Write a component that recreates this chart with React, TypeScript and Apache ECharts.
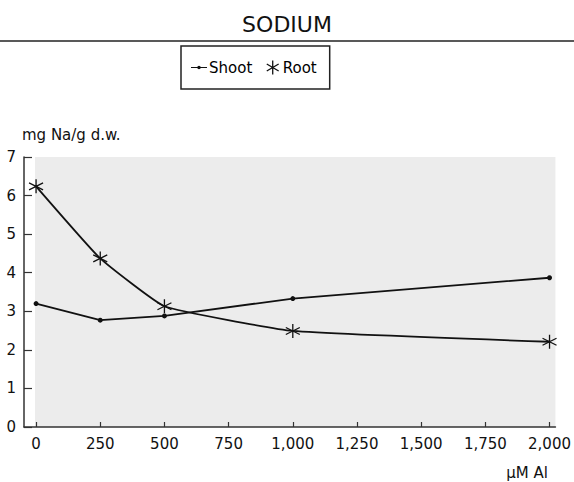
import React, { useEffect, useRef } from "react";
import * as echarts from "echarts";

const doses = [0, 250, 500, 1000, 2000];
const shoot = [3.2, 2.77, 2.88, 3.33, 3.87];
const root = [6.24, 4.37, 3.13, 2.49, 2.21];
const xTicks = [0, 250, 500, 750, 1000, 1250, 1500, 1750, 2000];

const FONT = "DejaVu Sans";
const STAR = "path://M10,0L10,20M1.5,5L18.5,15M1.5,15L18.5,5";
const LINE_DOT = "path://M0,9.3L20,9.3L20,10.7L0,10.7Z M12.2,10A2.2,2.2 0 1 1 7.8,10A2.2,2.2 0 1 1 12.2,10Z";

export default function App() {
  const ref = useRef<HTMLDivElement>(null);
  useEffect(() => {
    const chart = echarts.init(ref.current!, null, { renderer: "svg" });
    chart.setOption({
      animation: false,
      backgroundColor: "#ffffff",
      title: {
        text: "SODIUM",
        left: "center",
        top: 8,
        textStyle: { fontFamily: FONT, fontSize: 22, fontWeight: "normal", color: "#111" },
      },
      graphic: [
        {
          type: "line",
          shape: { x1: 0, y1: 41, x2: 574, y2: 41 },
          style: { stroke: "#222", lineWidth: 1.5 },
        },
        {
          type: "text",
          left: 22,
          top: 127,
          style: { text: "mg Na/g d.w.", font: `15px "${FONT}"`, fill: "#111" },
        },
        {
          type: "text",
          right: 26,
          top: 465,
          style: { text: "\u00B5M Al", font: `15px "${FONT}"`, fill: "#111" },
        },
      ],
      legend: {
        left: 181,
        top: 46,
        padding: [12, 13, 12, 10],
        borderColor: "#222",
        borderWidth: 1.5,
        itemGap: 12,
        itemWidth: 16,
        itemHeight: 14,
        textStyle: { fontFamily: FONT, fontSize: 15, color: "#000", padding: [0, 0, 0, -3] },
        data: [
          { name: "Shoot", icon: LINE_DOT, itemStyle: { color: "#111" } },
          { name: "Root", icon: STAR, itemStyle: { color: "none", borderColor: "#111", borderWidth: 1.3 } },
        ],
      },
      grid: { left: 24, right: 17, top: 157, bottom: 55, containLabel: false },
      xAxis: {
        type: "value",
        min: -47,
        max: 2023,
        axisLine: { onZero: false, lineStyle: { color: "#333", width: 1.5 } },
        axisTick: {
          show: true,
          inside: true,
          length: 5,
          customValues: xTicks,
          lineStyle: { color: "#333", width: 1.2 },
        },
        axisLabel: {
          customValues: xTicks,
          fontFamily: FONT,
          fontSize: 15,
          color: "#111",
          margin: 9,
          formatter: (v: number) => v.toLocaleString("en-US"),
        },
        splitLine: { show: false },
        z: 5,
      },
      yAxis: {
        type: "value",
        min: 0,
        max: 7,
        interval: 1,
        axisLine: { show: true, onZero: false, lineStyle: { color: "#333", width: 1.5 } },
        axisTick: { show: true, inside: true, length: 8, lineStyle: { color: "#333", width: 1.2 } },
        axisLabel: { fontFamily: FONT, fontSize: 15, color: "#111", margin: 8 },
        splitLine: { show: false },
        z: 5,
      },
      series: [
        {
          name: "Shoot",
          type: "line",
          data: doses.map((d, i) => [d, shoot[i]]),
          symbol: "circle",
          symbolSize: 5,
          lineStyle: { color: "#111", width: 1.8 },
          itemStyle: { color: "#111" },
          markArea: {
            silent: true,
            itemStyle: { color: "#ececec" },
            data: [[{ xAxis: -4, yAxis: 0 }, { xAxis: 2023, yAxis: 7 }]],
          },
          z: 3,
        },
        {
          name: "Root",
          type: "line",
          data: doses.map((d, i) => [d, root[i]]),
          smooth: 0.12,
          symbol: STAR,
          symbolSize: 14,
          lineStyle: { color: "#111", width: 1.8 },
          itemStyle: { color: "none", borderColor: "#111", borderWidth: 1.3 },
          z: 3,
        },
      ],
    });
    return () => chart.dispose();
  }, []);
  return <div ref={ref} style={{ position: "fixed", left: 0, top: 0, width: 574, height: 482 }} />;
}
